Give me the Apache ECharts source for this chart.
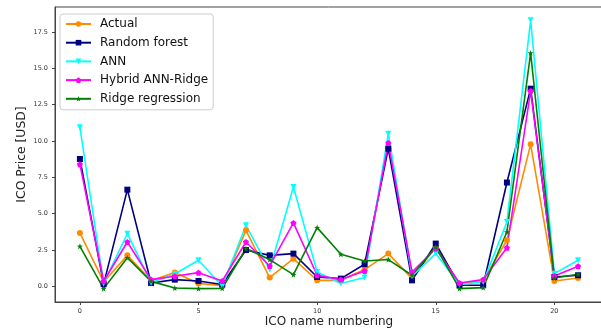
<!DOCTYPE html>
<html>
<head>
<meta charset="utf-8">
<script src="https://cdn.jsdelivr.net/npm/echarts@6/dist/echarts.min.js"></script>
<style>
html,body{margin:0;padding:0;background:#fff;}
#chart{width:601px;height:330px;}
</style>
</head>
<body>
<div id="chart"></div>
<script>
const icoIndex = [0,1,2,3,4,5,6,7,8,9,10,11,12,13,14,15,16,17,18,19,20,21];
const actual = [3.67,0.3,2.13,0.4,0.95,0.2,0.05,3.85,0.6,1.9,0.41,0.41,1.15,2.25,0.53,2.7,0.15,0.4,3.17,9.77,0.37,0.57];
const randomForest = [8.76,0.15,6.65,0.23,0.46,0.37,0.12,2.5,2.13,2.25,0.64,0.53,1.52,9.47,0.41,2.94,0.07,0.07,7.14,13.6,0.64,0.76];
const ann = [10.94,0.2,3.62,0.25,0.85,1.79,0.0,4.2,1.15,6.83,0.98,0.19,0.6,10.5,0.7,2.25,0.13,0.3,4.43,18.3,0.87,1.79];
const hybrid = [8.4,0.35,3.05,0.46,0.69,0.94,0.37,3.05,1.4,4.36,0.76,0.46,1.05,9.86,0.98,2.6,0.23,0.46,2.66,13.44,0.71,1.38];
const ridge = [2.75,-0.16,1.97,0.34,-0.12,-0.16,-0.14,2.6,1.84,0.8,4.04,2.2,1.74,1.84,0.76,2.71,-0.16,-0.09,3.74,16.06,0.57,0.83];
const yTicks = [0,2.5,5,7.5,10,12.5,15,17.5];
const xTicks = [0,5,10,15,20];
const seriesNames = ['Actual','Random forest','ANN','Hybrid ANN-Ridge','Ridge regression'];

const pts = arr => icoIndex.map((x,i)=>[x,arr[i]]);
const font = 'DejaVu Sans';
const pent = 'path://M0,-10 L9.51,-3.09 L5.88,8.09 L-5.88,8.09 L-9.51,-3.09 Z';
const tri = 'path://M-10,-8 L10,-8 L0,9 Z';
const star = 'path://M0,-10 L2.35,-3.24 L9.51,-3.09 L3.8,1.24 L5.88,8.09 L0,4 L-5.88,8.09 L-3.8,1.24 L-9.51,-3.09 L-2.35,-3.24 Z';

function mk(name, data, color, symbol, size){
  return {
    name, type:'line', data: pts(data),
    symbol, symbolSize: size, showSymbol:true,
    lineStyle:{color, width:1.6},
    itemStyle:{color, borderWidth:0},
    emphasis:{disabled:true},
    z: 2
  };
}

const chart = echarts.init(document.getElementById('chart'), null, {renderer:'canvas'});
chart.setOption({
  animation:false,
  backgroundColor:'#fff',
  grid:{left:55, right:-2, top:7, bottom:28, show:true, borderColor:'#444', borderWidth:1, backgroundColor:'transparent',
    containLabel:false, outerBoundsMode:'none'},
  legend:{
    orient:'vertical', left:60, top:14,
    data: seriesNames,
    padding:[3,5,4,5], itemWidth:25, itemHeight:7, itemGap:4.7,
    textStyle:{fontSize:12, fontFamily:font, color:'#111', lineHeight:14, padding:[0,0,0,4]},
    borderColor:'#ccc', borderWidth:1, borderRadius:3,
    backgroundColor:'rgba(255,255,255,0.85)'
  },
  xAxis:{
    type:'value', min:-1.05, max:22.05,
    name:'ICO name numbering', nameLocation:'middle', nameGap:14, nameMoveOverlap:false,
    nameTextStyle:{fontSize:12, fontFamily:font, color:'#222'},
    axisLine:{show:true, onZero:false, lineStyle:{color:'#444', width:1}},
    axisTick:{show:true, length:3, customValues:xTicks, lineStyle:{color:'#444'}},
    axisLabel:{customValues:xTicks, fontSize:6.5, fontFamily:font, color:'#333', margin:6},
    splitLine:{show:false}
  },
  yAxis:{
    type:'value', min:-1.08, max:19.22,
    name:'ICO Price [USD]', nameLocation:'middle', nameGap:27, nameMoveOverlap:false,
    nameTextStyle:{fontSize:12.4, fontFamily:font, color:'#222'},
    axisLine:{show:true, onZero:false, lineStyle:{color:'#444', width:1}},
    axisTick:{show:true, length:3, customValues:yTicks, lineStyle:{color:'#444'}},
    axisLabel:{customValues:yTicks, fontSize:6.5, fontFamily:font, color:'#333', margin:7,
      formatter: v => Number(v).toFixed(1)},
    splitLine:{show:false}
  },
  series:[
    mk(seriesNames[0], actual, '#ff8c00', 'circle', 6),
    mk(seriesNames[1], randomForest, '#000080', 'rect', 6),
    mk(seriesNames[2], ann, '#00ffff', tri, 6),
    mk(seriesNames[3], hybrid, '#ff00ff', pent, 6),
    mk(seriesNames[4], ridge, '#008000', star, 6)
  ]
});
</script>
</body>
</html>
